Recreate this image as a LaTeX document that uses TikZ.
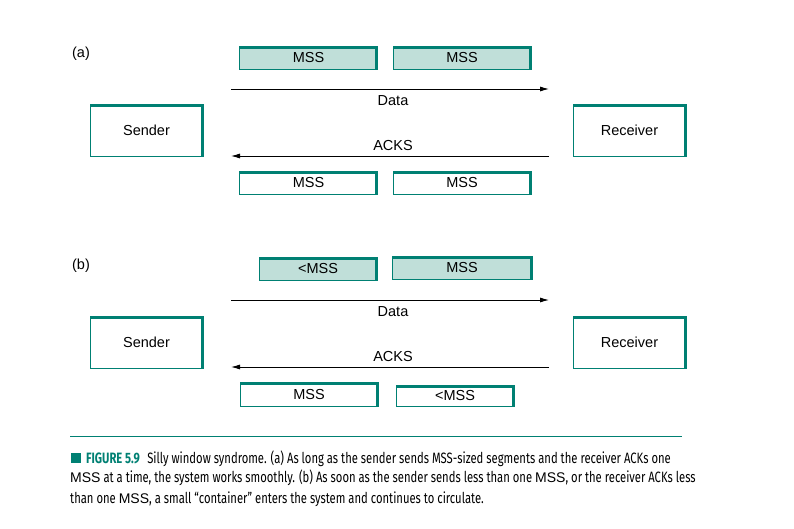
\documentclass[tikz,border=0pt]{standalone}
\usepackage{fontspec}
\setmainfont{Liberation Sans}
\newfontfamily\capfont[FakeStretch=0.75]{Fira Sans}
\usetikzlibrary{arrows.meta,positioning}
\definecolor{tealdk}{RGB}{0,128,115}
\definecolor{mint}{RGB}{192,223,217}
\newcommand\capmss{{\rmfamily\fontsize{14}{16}\selectfont MSS}}

\begin{document}
\begin{tikzpicture}[x=1pt, y=-1pt,
  box/.style = {draw=tealdk, line width=0.8pt, fill=white, inner sep=0pt, minimum height=23pt,
    font=\fontsize{14.5}{16}\selectfont,
    path picture={\draw[tealdk, line width=5pt] (path picture bounding box.north west) -- (path picture bounding box.north east) -- (path picture bounding box.south east);}},
  seg/.style = {box, minimum width=138pt},
  full/.style = {seg, fill=mint},
  host/.style = {box, minimum width=113pt, minimum height=52pt},
  lbl/.style = {anchor=base, inner sep=0pt, font=\fontsize{14.5}{16}\selectfont},
  capline/.style = {anchor=base west, inner sep=0pt, font=\capfont\fontsize{15}{20}\selectfont},
  flow/.style = {-{Latex[length=9pt,width=5pt]}, line width=0.8pt}]
\useasboundingbox (0,0) rectangle (794,528);

% (a)
\node[lbl] (ta) at (81,57) {(a)};
\node[full] (a1) at (308.5,57.5) {MSS};
\node[full] (a2) at (462,57.5) {MSS};
\node[host] (s1) at (146.5,130) {Sender};
\node[host] (r1) at (629.5,130) {Receiver};
\node[seg] (a3) at (308.5,182.5) {MSS};
\node[seg] (a4) at (462,182.5) {MSS};

\coordinate (d1s) at (231,89);
\coordinate (d1e) at (549,89);
\coordinate (k1s) at (549,156);
\coordinate (k1e) at (231,156);
\draw[flow] (d1s) -- (d1e);
\draw[flow] (k1s) -- (k1e);
\node[lbl] (dat1) at (393,105) {Data};
\node[lbl] (ack1) at (393,150) {ACKS};

% (b)
\node[lbl] (tb) at (81,269) {(b)};
\node[full, minimum width=118pt] (b1) at (318,268.5) {<MSS};
\node[full, minimum width=140pt] (b2) at (462,268) {MSS};
\node[host] (s2) at (146.5,342) {Sender};
\node[host] (r2) at (629.5,342) {Receiver};
\node[seg, minimum height=24pt] (b3) at (309,394) {MSS};
\node[seg, minimum width=118pt, minimum height=21pt] (b4) at (455,395.5) {<MSS};

\coordinate (d2s) at (231,300);
\coordinate (d2e) at (549,300);
\coordinate (k2s) at (549,367);
\coordinate (k2e) at (231,367);
\draw[flow] (d2s) -- (d2e);
\draw[flow] (k2s) -- (k2e);
\node[lbl] (dat2) at (393,316) {Data};
\node[lbl] (ack2) at (393,361) {ACKS};

% caption
\draw[tealdk, line width=0.8pt] (70,436) -- (682,436);
\fill[tealdk] (71,453) rectangle (81,463);
\node[capline] (c1) at (86,463) {\textcolor{tealdk}{\bfseries FIGURE 5.9}\enspace Silly window syndrome. (a) As long as the sender sends MSS-sized segments and the receiver ACKs one};
\node[capline] (c2) at (70,482.5) {\capmss{} at a time, the system works smoothly. (b) As soon as the sender sends less than one \capmss, or the receiver ACKs less};
\node[capline] (c3) at (70,503.5) {than one \capmss, a small “container” enters the system and continues to circulate.};
\end{tikzpicture}
\end{document}
